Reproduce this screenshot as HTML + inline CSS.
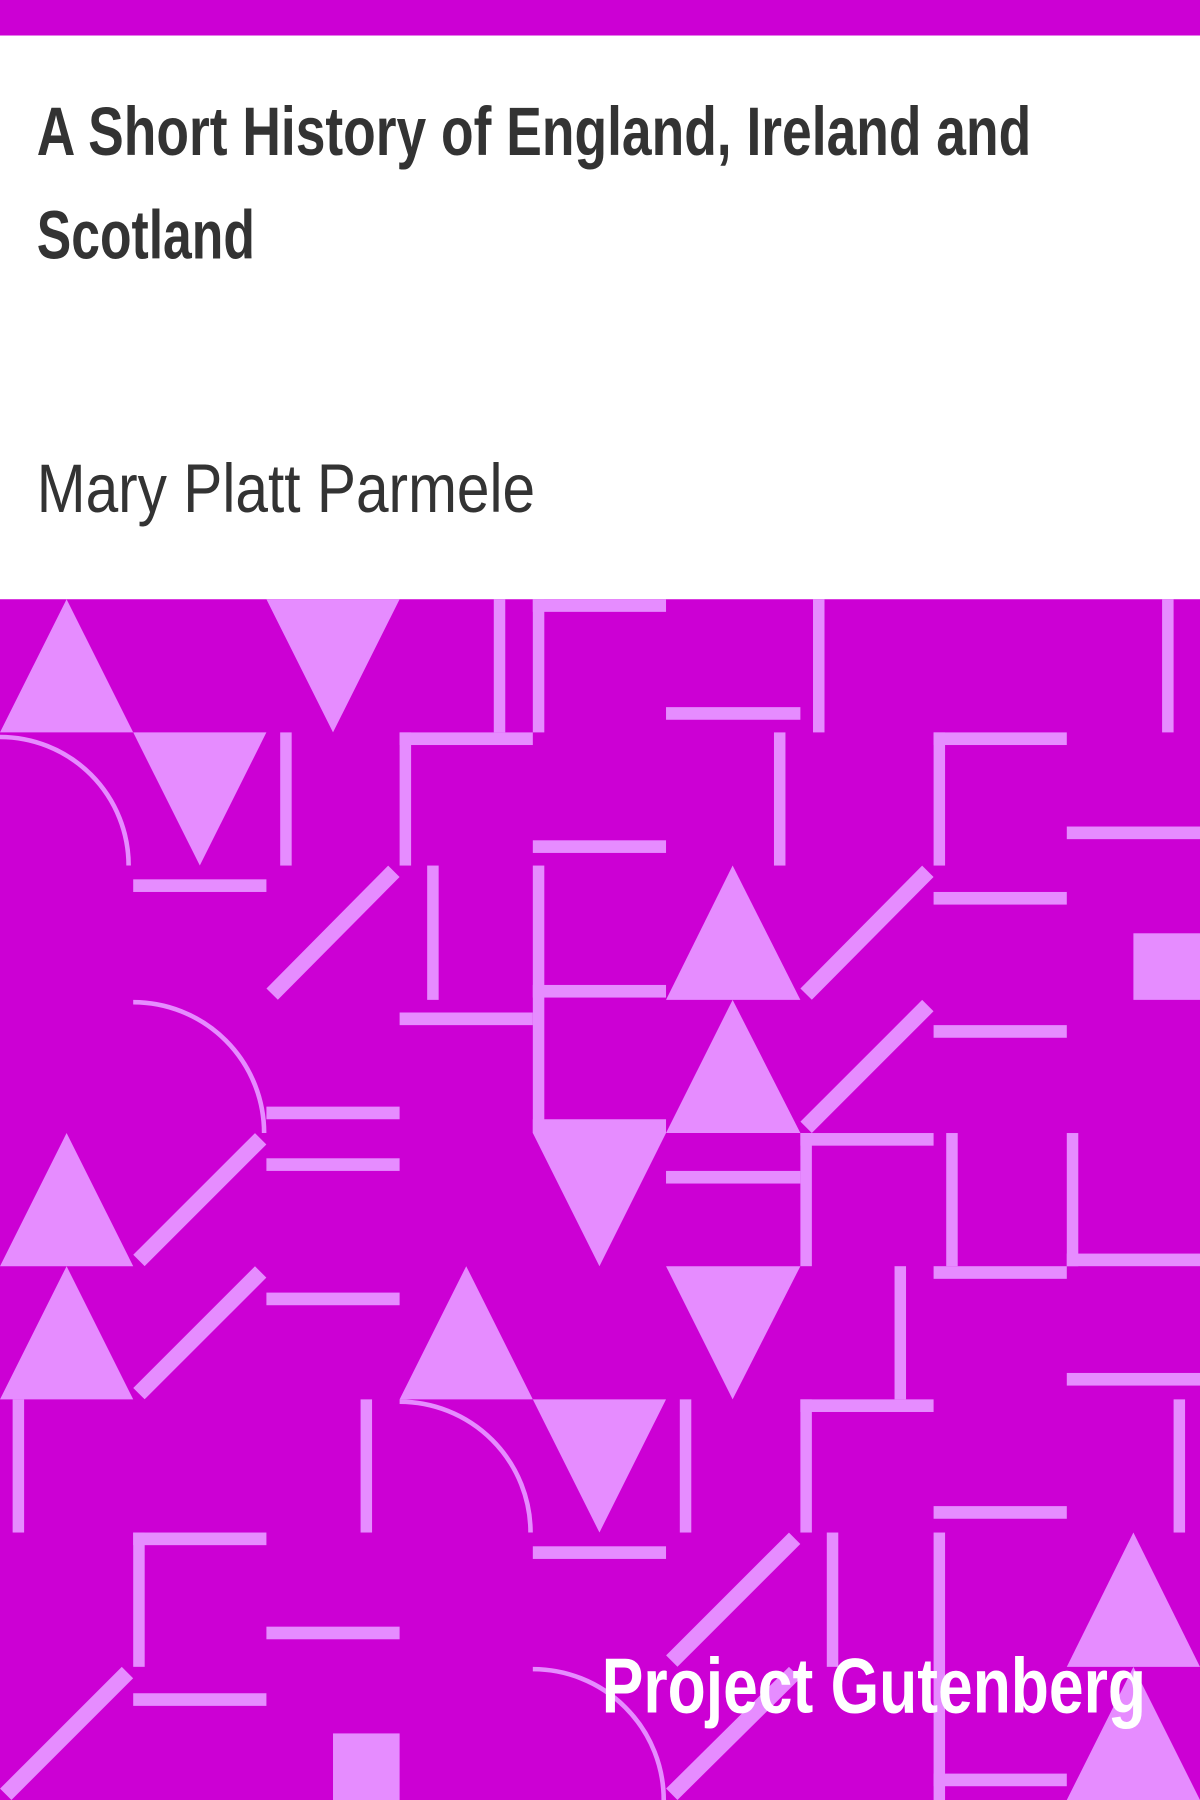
<!DOCTYPE html>
<html><head><meta charset="utf-8"><style>
html,body{margin:0;padding:0;background:#fff}
svg{display:block}
</style></head><body>
<svg width="1200" height="1800" viewBox="0 0 1045 1568" preserveAspectRatio="none" xmlns="http://www.w3.org/2000/svg">
<rect x="0" y="0" width="1045" height="31" fill="#cc00d4"/>
<rect x="0" y="31" width="1045" height="491" fill="#fff"/>
<text x="32" y="135" font-family="Liberation Sans, sans-serif" font-weight="bold" font-size="60" fill="#333" textLength="866" lengthAdjust="spacingAndGlyphs">A Short History of England, Ireland and</text>
<text x="32" y="225" font-family="Liberation Sans, sans-serif" font-weight="bold" font-size="60" fill="#333" textLength="190" lengthAdjust="spacingAndGlyphs">Scotland</text>
<text x="32" y="446" font-family="Liberation Sans, sans-serif" font-size="60" fill="#333" textLength="434" lengthAdjust="spacingAndGlyphs">Mary Platt Parmele</text>
<g>
<rect x="0" y="522" width="1045" height="1046" fill="#cc00d4"/>
<g fill="#e68cff">
<polygon points="58,522 0,638 116,638"/>
<polygon points="232,522 348,522 290,638"/>
<rect x="430" y="522" width="10" height="116"/>
<rect x="464" y="522" width="116" height="11"/><rect x="464" y="522" width="10" height="116"/>
<rect x="580" y="616" width="117" height="11"/>
<rect x="708" y="522" width="10" height="116"/>
<rect x="1012" y="522" width="10" height="116"/>
<polygon points="116,638 232,638 174,754"/>
<rect x="244" y="638" width="10" height="116"/>
<rect x="348" y="638" width="116" height="11"/><rect x="348" y="638" width="10" height="116"/>
<rect x="464" y="732" width="116" height="11"/>
<rect x="674" y="638" width="10" height="116"/>
<rect x="813" y="638" width="116" height="11"/><rect x="813" y="638" width="10" height="116"/>
<rect x="929" y="720" width="116" height="11"/>
<rect x="116" y="766" width="116" height="11"/>
<rect x="372" y="754" width="10" height="117"/>
<rect x="464" y="754" width="10" height="233"/><rect x="464" y="858" width="116" height="11"/><rect x="464" y="975" width="116" height="12"/>
<polygon points="638,754 580,871 697,871"/>
<rect x="813" y="777" width="116" height="11"/>
<rect x="987" y="813" width="58" height="58"/>
<rect x="232" y="964" width="116" height="11"/>
<rect x="232" y="1009" width="116" height="11"/>
<rect x="348" y="882" width="116" height="11"/>
<polygon points="638,871 580,987 697,987"/>
<rect x="813" y="893" width="116" height="11"/>
<polygon points="58,987 0,1103 116,1103"/>
<polygon points="464,987 580,987 522,1103"/>
<rect x="580" y="1020" width="117" height="11"/>
<rect x="697" y="987" width="116" height="11"/><rect x="697" y="987" width="10" height="116"/>
<rect x="824" y="987" width="10" height="116"/>
<rect x="929" y="987" width="10" height="116"/><rect x="929" y="1092" width="116" height="11"/>
<polygon points="58,1103 0,1219 116,1219"/>
<rect x="232" y="1126" width="116" height="11"/>
<polygon points="406,1103 348,1219 464,1219"/>
<polygon points="580,1103 697,1103 638,1219"/>
<rect x="779" y="1103" width="10" height="116"/>
<rect x="813" y="1103" width="116" height="11"/>
<rect x="929" y="1196" width="116" height="11"/>
<rect x="11" y="1219" width="10" height="116"/>
<rect x="314" y="1219" width="10" height="116"/>
<polygon points="464,1219 580,1219 522,1335"/>
<rect x="592" y="1219" width="10" height="116"/>
<rect x="697" y="1219" width="116" height="11"/><rect x="697" y="1219" width="10" height="116"/>
<rect x="1022" y="1219" width="10" height="116"/>
<rect x="813" y="1312" width="116" height="11"/>
<rect x="116" y="1335" width="116" height="11"/><rect x="116" y="1335" width="10" height="117"/>
<rect x="232" y="1417" width="116" height="11"/>
<rect x="464" y="1347" width="116" height="11"/>
<rect x="720" y="1335" width="10" height="117"/>
<rect x="813" y="1335" width="10" height="233"/><rect x="813" y="1545" width="116" height="11"/>
<polygon points="987,1335 929,1452 1045,1452"/>
<rect x="116" y="1475" width="116" height="11"/>
<rect x="290" y="1510" width="58" height="58"/>
<polygon points="987,1452 929,1568 1045,1568"/>
</g>
<g stroke="#e68cff" stroke-width="14" fill="none">
<line x1="237" y1="866" x2="343" y2="759"/>
<line x1="702" y1="866" x2="808" y2="759"/>
<line x1="702" y1="982" x2="808" y2="876"/>
<line x1="121" y1="1098" x2="227" y2="992"/>
<line x1="121" y1="1214" x2="227" y2="1108"/>
<line x1="585" y1="1447" x2="692" y2="1340"/>
<line x1="5" y1="1563" x2="111" y2="1457"/>
<line x1="585" y1="1563" x2="692" y2="1457"/>
</g>
<g stroke="#e68cff" stroke-width="4" fill="none">
<path d="M0,642 A112,112 0 0 1 112,754"/>
<path d="M116,873 A114,114 0 0 1 230,987"/>
<path d="M348,1221 A114,114 0 0 1 462,1335"/>
<path d="M464,1454 A114,114 0 0 1 578,1568"/>
</g>
</g>
<text x="524" y="1492" font-family="Liberation Sans, sans-serif" font-weight="bold" font-size="68" fill="#fff" textLength="474" lengthAdjust="spacingAndGlyphs">Project Gutenberg</text>
</svg>
</body></html>
